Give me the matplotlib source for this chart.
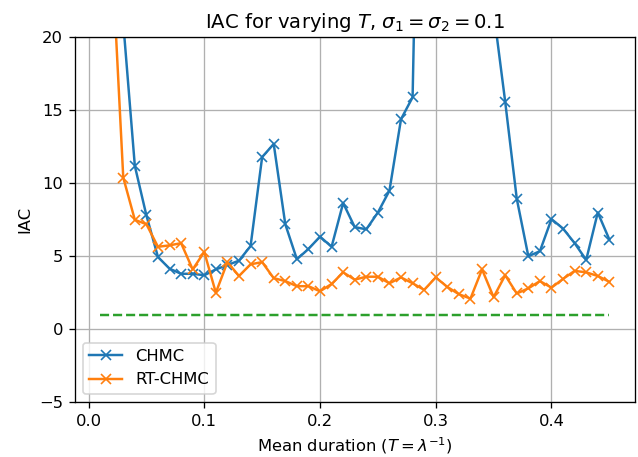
import numpy as np
import matplotlib
matplotlib.use('Agg')
import matplotlib.pyplot as plt

# mean durations T
durations = [0.01, 0.02, 0.03, 0.04, 0.05, 0.06, 0.07, 0.08, 0.09, 0.10,
             0.11, 0.12, 0.13, 0.14, 0.15, 0.16, 0.17, 0.18, 0.19, 0.20,
             0.21, 0.22, 0.23, 0.24, 0.25, 0.26, 0.27, 0.28, 0.29, 0.30,
             0.31, 0.32, 0.33, 0.34, 0.35, 0.36, 0.37, 0.38, 0.39, 0.40,
             0.41, 0.42, 0.43, 0.44, 0.45]

iac_chmc = [80.0, 50.0, 21.0, 11.2, 7.8, 4.95, 4.15, 3.8, 3.8, 3.7,
            4.1, 4.4, 4.7, 5.7, 11.8, 12.7, 7.2, 4.8, 5.5, 6.35,
            5.65, 8.65, 7.0, 6.85, 8.0, 9.5, 14.4, 15.9, 55.0, 70.0,
            80.0, 75.0, 60.0, 40.0, 21.8, 15.6, 8.95, 5.0, 5.35, 7.55,
            6.9, 5.9, 4.75, 8.0, 6.15]

iac_rtchmc = [45.0, 26.0, 10.4, 7.5, 7.2, 5.65, 5.75, 5.9, 4.1, 5.3,
              2.5, 4.6, 3.65, 4.45, 4.6, 3.5, 3.3, 2.95, 2.95, 2.6,
              3.1, 3.9, 3.4, 3.6, 3.6, 3.15, 3.55, 3.15, 2.7, 3.55,
              2.9, 2.4, 2.1, 4.1, 2.2, 3.7, 2.45, 2.8, 3.3, 2.85,
              3.45, 4.0, 3.9, 3.65, 3.25]

reference_iac = 1.0

dpi = 118
fig = plt.figure(figsize=(638 / dpi, 457 / dpi), dpi=dpi)
ax = fig.add_axes([0.117, 0.12, 0.878, 0.798])

ax.plot(durations, iac_chmc, marker='x', label='CHMC')
ax.plot(durations, iac_rtchmc, marker='x', label='RT-CHMC')
ax.plot([durations[0], durations[-1]], [reference_iac, reference_iac], '--')

ax.set_ylim(-5, 20)
ax.set_title(r'IAC for varying $T$, $\sigma_1 = \sigma_2 = 0.1$')
ax.set_xlabel(r'Mean duration ($T = \lambda^{-1}$)')
ax.set_ylabel('IAC')
ax.grid(True)
ax.legend(loc='lower left')

fig.savefig('out.png', dpi=dpi)
plt.close(fig)
